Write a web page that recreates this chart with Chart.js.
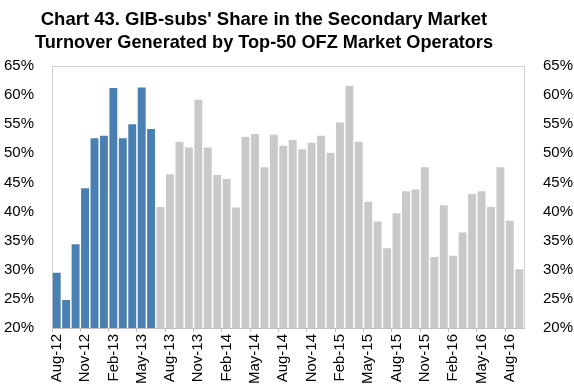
<!DOCTYPE html>
<html>
<head>
<meta charset="utf-8">
<script src="https://cdn.jsdelivr.net/npm/chart.js@4"></script>
<style>
  html, body { margin: 0; padding: 0; background: #fff; }
  #wrap { width: 574px; height: 385px; }
</style>
</head>
<body>
<div id="wrap"><canvas id="myBarChart"></canvas></div>
<script>
// months Aug-12 .. Sep-16
var months = [
    "Aug-12","Sep-12","Oct-12","Nov-12","Dec-12","Jan-13","Feb-13","Mar-13","Apr-13","May-13",
    "Jun-13","Jul-13","Aug-13","Sep-13","Oct-13","Nov-13","Dec-13","Jan-14","Feb-14","Mar-14",
    "Apr-14","May-14","Jun-14","Jul-14","Aug-14","Sep-14","Oct-14","Nov-14","Dec-14","Jan-15",
    "Feb-15","Mar-15","Apr-15","May-15","Jun-15","Jul-15","Aug-15","Sep-15","Oct-15","Nov-15",
    "Dec-15","Jan-16","Feb-16","Mar-16","Apr-16","May-16","Jun-16","Jul-16","Aug-16","Sep-16"
];

// share, % (first 11 months highlighted in blue)
var shareValues = [
    29.5, 24.8, 34.4, 44.0, 52.6, 53.0, 61.2, 52.6, 55.0, 61.3,
    54.2, 40.8, 46.4, 52.0, 51.0, 59.2, 51.0, 46.3, 45.6, 40.7,
    52.8, 53.3, 47.6, 53.2, 51.3, 52.3, 50.7, 51.8, 53.0, 50.1,
    55.3, 61.6, 52.0, 41.7, 38.3, 33.7, 39.7, 43.5, 43.8, 47.6,
    32.2, 41.1, 32.4, 36.4, 43.0, 43.5, 40.8, 47.6, 38.4, 30.1
];
var highlightCount = 11;

var yMin = 20;
var yMax = 65;
var yStep = 5;

var titleLines = [
    "Chart 43. GIB-subs' Share in the Secondary Market",
    "Turnover Generated by Top-50 OFZ Market Operators"
];

/**
 * Create and print the chart
 */
function makeChart() {
    var colors = shareValues.map(function (v, i) {
        return i < highlightCount ? "#4a80b1" : "#c9c9c9";
    });

    var tickFont = { family: "Arial, 'Liberation Sans'", size: 15 };
    var pct = function (v) { return v + "%"; };

    // title is drawn by hand: in the original it sits left of the page centre
    var titlePlugin = {
        id: 'sideTitle',
        afterDraw: function (chart) {
            var c = chart.ctx;
            c.save();
            c.fillStyle = "#000";
            c.font = "bold 18.5px Arial, 'Liberation Sans'";
            c.textAlign = "center";
            c.textBaseline = "middle";
            c.fillText(titleLines[0], 264, 20);
            c.fillText(titleLines[1], 264, 43, 458);
            c.restore();
        }
    };

    var topBorder = {
        id: 'topBorder',
        afterDraw: function (chart) {
            var a = chart.chartArea;
            var c = chart.ctx;
            c.save();
            c.strokeStyle = "#d0d0d0";
            c.lineWidth = 1;
            c.beginPath();
            c.moveTo(a.left, a.top + 0.5);
            c.lineTo(a.right, a.top + 0.5);
            c.stroke();
            c.restore();
        }
    };

    var ctx = document.getElementById("myBarChart").getContext("2d");
    new Chart(ctx, {
        type: 'bar',
        data: {
            labels: months,
            datasets: [{
                data: shareValues,
                backgroundColor: colors,
                borderWidth: 0,
                barPercentage: 0.84,
                categoryPercentage: 1.0
            }]
        },
        options: {
            responsive: true,
            maintainAspectRatio: false,
            animation: false,
            layout: { padding: { top: 66, left: 0, right: 0, bottom: 0 } },
            plugins: {
                legend: { display: false },
                tooltip: { enabled: false },
                title: { display: false }
            },
            scales: {
                x: {
                    grid: {
                        display: true,
                        drawOnChartArea: false,
                        tickLength: 4,
                        color: function (c) { return c.index % 3 === 0 ? "#bfbfbf" : "rgba(0,0,0,0)"; }
                    },
                    border: { color: "#bfbfbf" },
                    ticks: {
                        autoSkip: false,
                        maxRotation: 90,
                        minRotation: 90,
                        color: "#000",
                        font: tickFont,
                        padding: 2,
                        callback: function (val, i) {
                            return i % 3 === 0 ? months[i] : "";
                        }
                    },
                    afterFit: function (s) { s.height = 57; }
                },
                y: {
                    position: 'left',
                    min: yMin,
                    max: yMax,
                    grid: { display: false },
                    border: { color: "#d0d0d0" },
                    ticks: { stepSize: yStep, color: "#000", font: tickFont, callback: pct, padding: 10 },
                    afterFit: function (s) { s.width = 52; }
                },
                y2: {
                    position: 'right',
                    min: yMin,
                    max: yMax,
                    grid: { display: false },
                    border: { color: "#d0d0d0" },
                    ticks: { stepSize: yStep, color: "#000", font: tickFont, callback: pct, padding: 11 },
                    afterFit: function (s) { s.width = 50; }
                }
            }
        },
        plugins: [titlePlugin, topBorder]
    });
}

makeChart();
</script>
</body>
</html>
